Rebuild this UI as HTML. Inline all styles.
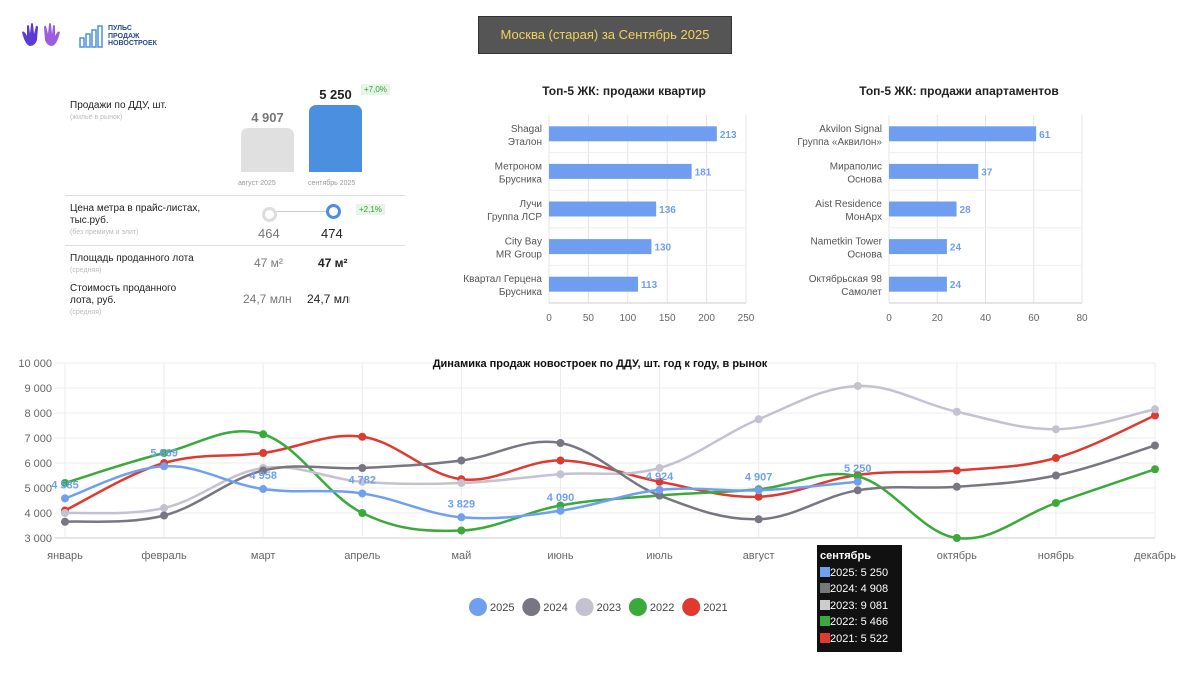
<!DOCTYPE html>
<html><head><meta charset="utf-8">
<style>
body{margin:0;width:1200px;height:675px;background:#fff;font-family:"Liberation Sans","Noto Sans CJK SC",sans-serif;position:relative;overflow:hidden}
.a{position:absolute}
.lbl{font-size:10px;color:#222}
.sub{font-size:7px;color:#bbb}
</style></head><body>
<svg class="a" style="left:20px;top:22px" width="42" height="26" viewBox="0 0 42 26"><path d="M2 10 Q4 8 7 14 L7 4 Q8 2 9 4 L10 12 L11 2 Q12 0 13 2 L14 12 L16 4 Q17 3 18 5 L17 18 Q15 24 10 24 Q5 23 2 10Z" fill="#5b3bd6"/><path d="M40 10 Q38 8 35 14 L35 4 Q34 2 33 4 L32 12 L31 2 Q30 0 29 2 L28 12 L26 4 Q25 3 24 5 L25 18 Q27 24 32 24 Q37 23 40 10Z" fill="#9b5ee0"/></svg>
<div class="a" style="left:79px;top:24px;width:92px;height:24px">
<svg class="a" style="left:0;top:0" width="28" height="24"><g fill="none" stroke="#4a90e2" stroke-width="1.5"><rect x="1" y="14" width="4" height="9"/><rect x="7" y="10" width="4" height="13"/><rect x="13" y="6" width="4" height="17"/><rect x="19" y="2" width="4" height="21"/></g></svg>
<div class="a" style="left:29px;top:1px;font-size:7px;line-height:7.5px;color:#2a4a8a;font-weight:bold">ПУЛЬС<br>ПРОДАЖ<br>НОВОСТРОЕК</div></div>
<div class="a" style="left:478px;top:16px;width:252px;height:36px;background:#555;color:#f2d25a;font-size:13px;line-height:36px;text-align:center;border:1px solid #333">Москва (старая) за Сентябрь 2025</div>

<div class="a lbl" style="left:70px;top:100px">Продажи по ДДУ, шт.</div>
<div class="a sub" style="left:70px;top:114px">(жильё в рынок)</div>
<div class="a" style="left:241px;top:110px;width:53px;text-align:center;font-size:13px;font-weight:bold;color:#777">4 907</div>
<div class="a" style="left:241px;top:128px;width:53px;height:44px;background:#e0e0e0;border-radius:7px 7px 0 0"></div>
<div class="a" style="left:309px;top:87px;width:53px;text-align:center;font-size:13px;font-weight:bold;color:#222">5 250</div>
<div class="a" style="left:309px;top:105px;width:53px;height:67px;background:#4a8fe0;border-radius:7px 7px 0 0"></div>
<div class="a" style="left:361px;top:84px;font-size:8px;color:#3a9a3a;background:#e6f6e6;padding:1px 3px">+7,0%</div>
<div class="a sub" style="left:238px;top:180px;font-size:7px;color:#999">август 2025</div>
<div class="a sub" style="left:308px;top:180px;font-size:7px;color:#999">сентябрь 2025</div>
<div class="a" style="left:65px;top:195px;width:340px;height:1px;background:#ddd"></div>
<div class="a lbl" style="left:70px;top:203px;line-height:12px">Цена метра в прайс-листах,<br>тыс.руб.</div>
<div class="a sub" style="left:70px;top:229px">(без премиум и элит)</div>
<div class="a" style="left:270px;top:211px;width:62px;height:1px;background:#ccc"></div>
<div class="a" style="left:262px;top:207px;width:9px;height:9px;border:3px solid #ddd;border-radius:50%;background:#fff"></div>
<div class="a" style="left:326px;top:204px;width:9px;height:9px;border:3px solid #4a8fe0;border-radius:50%;background:#fff"></div>
<div class="a" style="left:356px;top:204px;font-size:8px;color:#3a9a3a;background:#e6f6e6;padding:1px 3px">+2,1%</div>
<div class="a" style="left:258px;top:226px;font-size:13px;color:#777">464</div>
<div class="a" style="left:321px;top:226px;font-size:13px;color:#222">474</div>
<div class="a" style="left:65px;top:245px;width:340px;height:1px;background:#ddd"></div>
<div class="a lbl" style="left:70px;top:253px">Площадь проданного лота</div>
<div class="a sub" style="left:70px;top:267px">(средняя)</div>
<div class="a" style="left:254px;top:256px;font-size:12px;color:#777">47 м²</div>
<div class="a" style="left:318px;top:256px;font-size:12px;color:#222;font-weight:bold">47 м²</div>
<div class="a lbl" style="left:70px;top:283px;line-height:12px">Стоимость проданного<br>лота, руб.</div>
<div class="a sub" style="left:70px;top:309px">(средняя)</div>
<div class="a" style="left:243px;top:292px;font-size:12px;color:#777">24,7 млн</div>
<div class="a" style="left:307px;top:292px;font-size:12px;color:#222;width:43px;overflow:hidden;white-space:nowrap">24,7 млн</div>

<svg class="a" id="bars" style="left:0;top:0" width="1200" height="340"></svg>
<svg class="a" id="line" style="left:0;top:340px" width="1200" height="335"></svg>

<div class="a" style="left:817px;top:545px;width:85px;height:107px;background:#111;color:#fff;font-size:11px;line-height:16.5px;padding:3px 3px;box-sizing:border-box">
<div style="font-weight:bold">сентябрь</div>
<div><span style="display:inline-block;width:10px;height:10px;background:#6fa0f0;vertical-align:-1px"></span>2025: 5 250</div>
<div><span style="display:inline-block;width:10px;height:10px;background:#777;vertical-align:-1px"></span>2024: 4 908</div>
<div><span style="display:inline-block;width:10px;height:10px;background:#ccc;vertical-align:-1px"></span>2023: 9 081</div>
<div><span style="display:inline-block;width:10px;height:10px;background:#3aaa3a;vertical-align:-1px"></span>2022: 5 466</div>
<div><span style="display:inline-block;width:10px;height:10px;background:#e03a30;vertical-align:-1px"></span>2021: 5 522</div>
</div>

<script>
const NS="http://www.w3.org/2000/svg";
const flatNames=[["Shagal","Эталон"],["Метроном","Брусника"],["Лучи","Группа ЛСР"],["City Bay","MR Group"],["Квартал Герцена","Брусника"]];
const flatValues=[213,181,136,130,113];
const flatTicks=[0,50,100,150,200,250];
const aptNames=[["Akvilon Signal","Группа «Аквилон»"],["Мираполис","Основа"],["Aist Residence","МонАрх"],["Nametkin Tower","Основа"],["Октябрьская 98","Самолет"]];
const aptValues=[61,37,28,24,24];
const aptTicks=[0,20,40,60,80];
const months=["январь","февраль","март","апрель","май","июнь","июль","август","сентябрь","октябрь","ноябрь","декабрь"];
const yTicks=[3000,4000,5000,6000,7000,8000,9000,10000];
const s2025=[4585,5869,4958,4782,3829,4090,4924,4907,5250];
const s2024=[3650,3900,5700,5800,6100,6800,4700,3750,4908,5050,5500,6700];
const s2023=[4000,4200,5800,5250,5200,5550,5800,7750,9081,8050,7350,8150];
const s2022=[5200,6400,7150,4000,3300,4300,4700,4950,5466,3000,4400,5750];
const s2021=[4100,6000,6400,7050,5350,6100,5250,4650,5522,5700,6200,7900];
const seriesNames=["2025","2024","2023","2022","2021"];

function mk(p,t,a,txt){const e=document.createElementNS(NS,t);for(const k in a)e.setAttribute(k,a[k]);if(txt!=null)e.textContent=txt;p.appendChild(e);return e;}

function barChart(svg,title,names,vals,ticks,x0,x1,titleX,key){
  const max=ticks[ticks.length-1];const sx=v=>x0+v/max*(x1-x0);
  const top=115,bot=303,rowH=(bot-top)/names.length;
  let t=mk(svg,"text",{x:titleX,y:95,"font-size":12,"font-weight":"bold","text-anchor":"middle",fill:"#222"},title);
  
  
  ticks.forEach(v=>{const g=mk(svg,"line",{x1:sx(v),x2:sx(v),y1:top,y2:bot,stroke:"#e4e4e4"});
    
    
    const l=mk(svg,"text",{x:sx(v),y:321,"font-size":10,fill:"#666","text-anchor":"middle"},v);
    
    });
  for(let i=1;i<names.length;i++)mk(svg,"line",{x1:x0,x2:x1,y1:top+i*rowH,y2:top+i*rowH,stroke:"#eee"});
  mk(svg,"line",{x1:x0,x2:x1,y1:bot,y2:bot,stroke:"#ccc"});
  names.forEach((n,i)=>{const cy=top+rowH*(i+0.5);
    const r=mk(svg,"rect",{x:x0,y:cy-7.5,width:sx(vals[i])-x0,height:15,fill:"#6f9ef0"});
    
    
    const v=mk(svg,"text",{x:sx(vals[i])+3,y:cy+4,"font-size":10,"font-weight":"bold",fill:"#6f9ef0"},vals[i]);
    
    
    n.forEach((s,j)=>{const l=mk(svg,"text",{x:x0-7,y:cy-2+j*13,"font-size":10,fill:"#555","text-anchor":"end"},s);
      
      });
  });
}
const bs=document.getElementById("bars");
barChart(bs,"Топ-5 ЖК: продажи квартир",flatNames,flatValues,flatTicks,549,746,624,"flats");
barChart(bs,"Топ-5 ЖК: продажи апартаментов",aptNames,aptValues,aptTicks,889,1082,959,"apts");

const ls=document.getElementById("line");
const X0=65,X1=1155,Y0=538-340,Y1=363-340,ymin=3000,ymax=10000;
const sx=i=>X0+i*(X1-X0)/11, sy=v=>Y0-(v-ymin)/(ymax-ymin)*(Y0-Y1);
yTicks.forEach(v=>{const g=mk(ls,"line",{x1:55,x2:X1,y1:sy(v),y2:sy(v),stroke:v==3000?"#ccc":"#ececec"});
  
  
  const l=mk(ls,"text",{x:52,y:sy(v)+4,"font-size":11,fill:"#666","text-anchor":"end"},v.toLocaleString("ru-RU").replace(/\s/g," "));
  
  });
months.forEach((m,i)=>{const g=mk(ls,"line",{x1:sx(i),x2:sx(i),y1:Y1,y2:Y0,stroke:"#ececec"});
  
  
  const l=mk(ls,"text",{x:sx(i),y:Y0+21,"font-size":11,fill:"#666","text-anchor":"middle"},m);
  
  });
const tt=mk(ls,"text",{x:600,y:27,"font-size":11,"font-weight":"bold","text-anchor":"middle",fill:"#111"},"Динамика продаж новостроек по ДДУ, шт. год к году, в рынок");


function path(vals){const p=vals.map((v,i)=>[sx(i),sy(v)]);let d="M"+p[0][0]+","+p[0][1];
  for(let i=0;i<p.length-1;i++){const a=p[i-1]||p[i],b=p[i],c=p[i+1],e=p[i+2]||c;const k=0.18;
    d+=` C${b[0]+(c[0]-a[0])*k},${b[1]+(c[1]-a[1])*k} ${c[0]-(e[0]-b[0])*k},${c[1]-(e[1]-b[1])*k} ${c[0]},${c[1]}`;}return d;}
const all=[[s2021,"#e03a30","2021"],[s2022,"#3aaa3a","2022"],[s2023,"#c4c2d0","2023"],[s2024,"#777682","2024"],[s2025,"#6fa0f0","2025"]];
all.forEach(([vals,c,n])=>{const p=mk(ls,"path",{d:path(vals),fill:"none",stroke:c,"stroke-width":2.5});
  
  
  vals.forEach((v,i)=>{const d=mk(ls,"circle",{cx:sx(i),cy:sy(v),r:4,fill:c});
    
    });});
s2025.forEach((v,i)=>{const l=mk(ls,"text",{x:sx(i),y:sy(v)-10,"font-size":11,"font-weight":"bold",fill:"#6fa0f0","text-anchor":"middle"},v.toLocaleString("ru-RU").replace(/\s/g," "));
  
  });
const legCols=["#6fa0f0","#777682","#c4c2d0","#3aaa3a","#e03a30"];
seriesNames.forEach((n,i)=>{const x=478+i*53.3;
  const c=mk(ls,"circle",{cx:x,cy:267,r:9,fill:legCols[i]});
  
  
  const t=mk(ls,"text",{x:x+12,y:271,"font-size":11,fill:"#444"},n);
  
  });
</script>
</body></html>
